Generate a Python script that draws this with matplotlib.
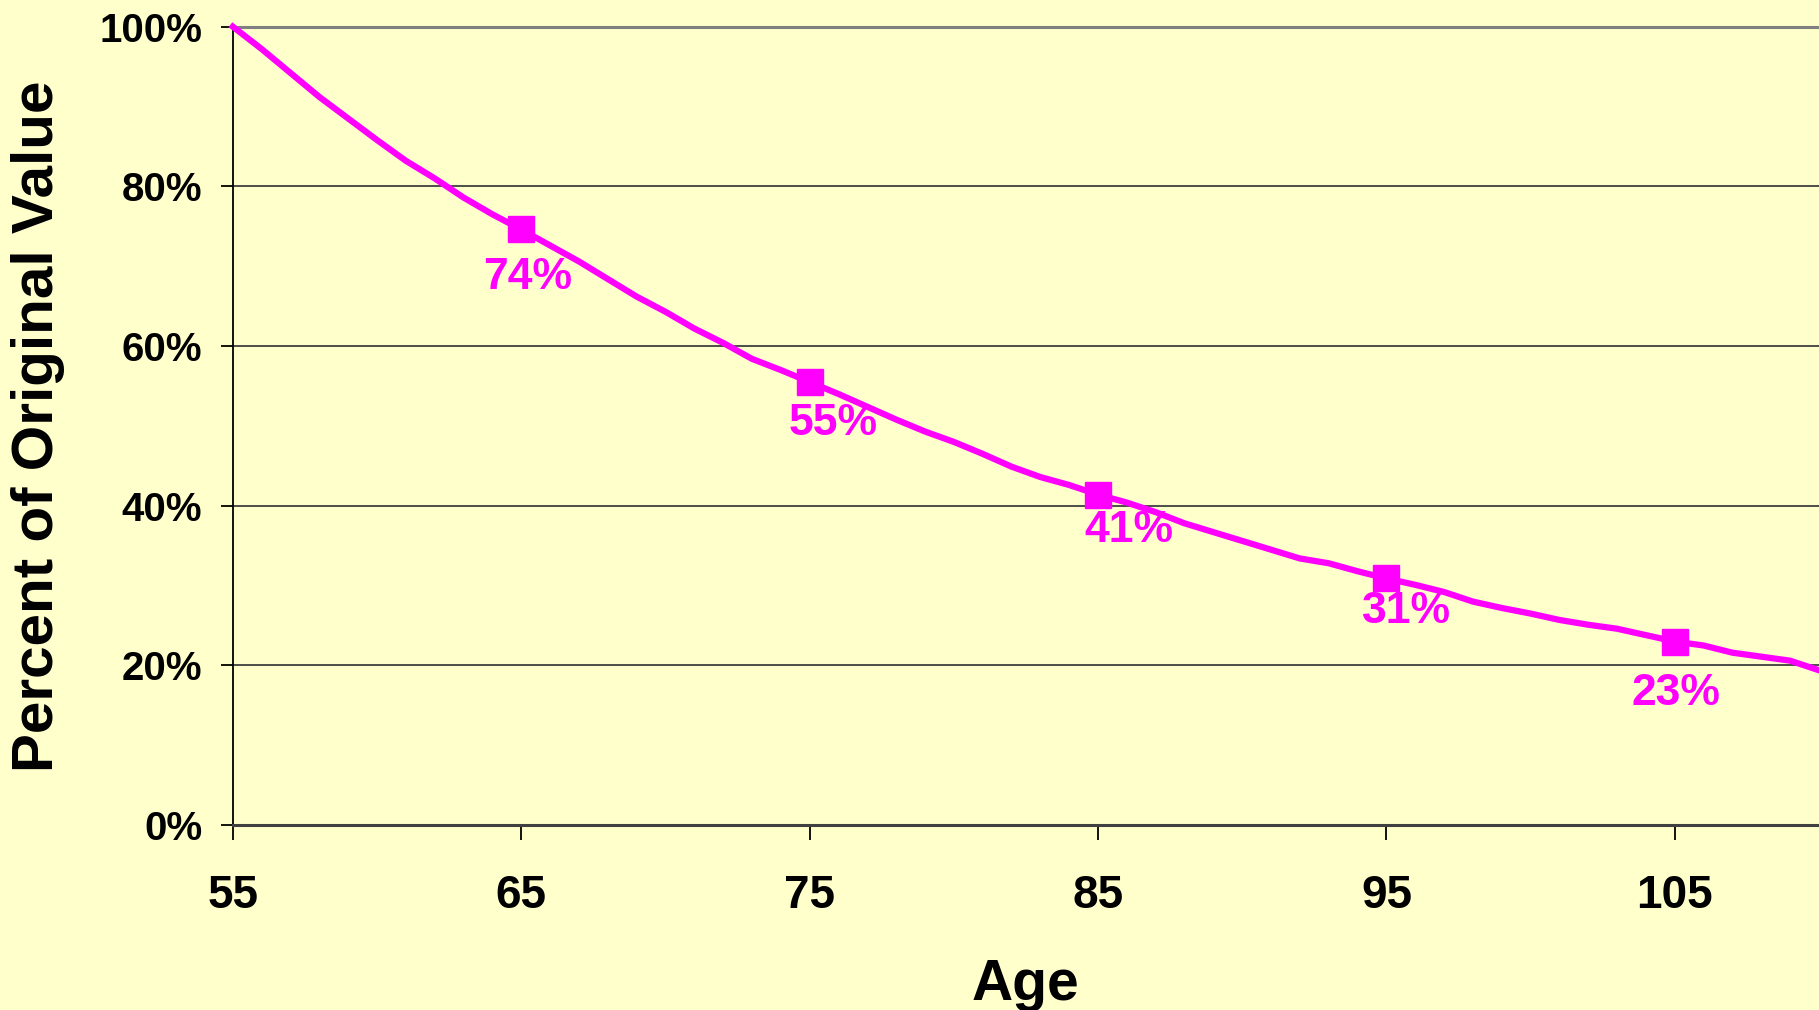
import matplotlib.pyplot as plt
from matplotlib.ticker import PercentFormatter

# yearly value as percent of original
ages = list(range(55, 111))
values = [100.0, 97.2, 94.2, 91.2, 88.5, 85.8, 83.2, 81.0, 78.6, 76.5,
          74.6, 72.6, 70.6, 68.4, 66.2, 64.3, 62.2, 60.4, 58.4, 57.0,
          55.5, 54.0, 52.4, 50.8, 49.3, 48.0, 46.5, 44.9, 43.6, 42.6,
          41.4, 40.4, 39.2, 37.8, 36.7, 35.6, 34.5, 33.4, 32.8, 31.8,
          30.9, 30.1, 29.2, 28.0, 27.2, 26.5, 25.7, 25.1, 24.6, 23.8,
          23.0, 22.5, 21.6, 21.1, 20.6, 19.4]
marker_ages = [65, 75, 85, 95, 105]
marker_labels = ["74%", "55%", "41%", "31%", "23%"]
label_offsets = [(6, -48), (24, -42), (31, -36), (20, -33), (1, -52)]

x_ticks = [55, 65, 75, 85, 95, 105]
y_ticks = [0, 20, 40, 60, 80, 100]

bg = "#FFFFCC"
pink = "#FF00FF"
font = "Liberation Sans"

fig = plt.figure(figsize=(18.19, 10.10), dpi=100, facecolor=bg)
ax = fig.add_axes([0.128, 0.183, 0.872, 0.7906])
ax.set_facecolor(bg)

marker_idx = [ages.index(a) for a in marker_ages]
ax.plot(ages, values, color=pink, lw=4.5, marker="s", ms=19,
        markevery=marker_idx, solid_joinstyle="round", clip_on=False, zorder=3)

for a, lab, off in zip(marker_ages, marker_labels, label_offsets):
    v = values[ages.index(a)]
    ax.annotate(lab, (a, v), xytext=off, textcoords="offset pixels",
                ha="center", va="center", color=pink, fontsize=32,
                fontweight="bold", family=font)

ax.set_xlim(55, 110)
ax.set_ylim(0, 100)
ax.set_xticks(x_ticks)
ax.set_yticks(y_ticks)
ax.yaxis.set_major_formatter(PercentFormatter(decimals=0))

ax.grid(axis="y", color="#404040", lw=1.3)
ax.set_axisbelow(True)
ax.spines["right"].set_visible(False)
ax.spines["top"].set_color("#808080")
ax.spines["top"].set_linewidth(2.2)
ax.spines["left"].set_color("black")
ax.spines["left"].set_linewidth(1.3)
ax.spines["bottom"].set_color("#404040")
ax.spines["bottom"].set_linewidth(2.2)

ax.tick_params(axis="y", length=9, width=1.3, pad=13, labelsize=29)
ax.tick_params(axis="x", length=11, width=1.3, pad=24, labelsize=33)
for t in ax.get_xticklabels() + ax.get_yticklabels():
    t.set_fontweight("bold")
    t.set_family(font)

ax.set_xlabel("Age", fontsize=41, fontweight="bold", family=font, labelpad=29)
ax.set_ylabel("Percent of Original Value", fontsize=42, fontweight="bold",
              family=font, labelpad=25)

plt.savefig("out.png", dpi=100, facecolor=bg)
plt.close()
